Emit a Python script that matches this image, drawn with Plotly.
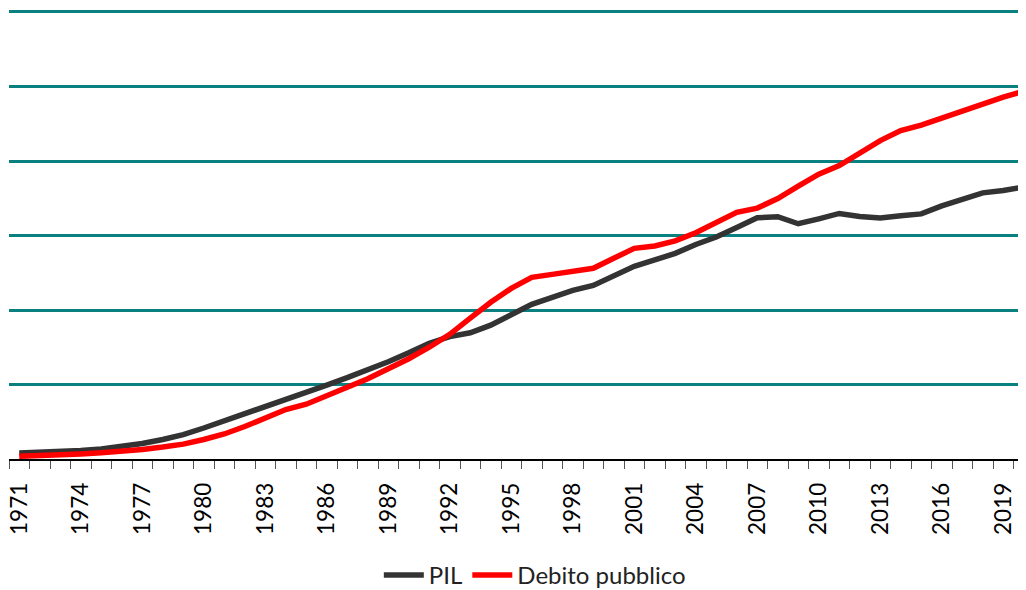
import plotly.graph_objects as go

years = list(range(1971, 2021))

pil = [40, 44, 48, 57, 67, 84, 104, 131, 164, 208,
       255, 301, 352, 399, 446, 496, 546, 596, 653, 713,
       777, 821, 847, 898, 971, 1038, 1085, 1132, 1165, 1232,
       1293, 1336, 1380, 1440, 1490, 1554, 1619, 1626, 1579, 1612,
       1648, 1628, 1618, 1632, 1645, 1699, 1746, 1786, 1802, 1826]

debito = [18, 21, 27, 34, 42, 50, 64, 80, 100, 131,
          168, 218, 271, 332, 368, 429, 482, 539, 603, 673,
          750, 837, 945, 1052, 1145, 1219, 1239, 1256, 1280, 1347,
          1414, 1430, 1464, 1518, 1585, 1655, 1684, 1748, 1831, 1912,
          1969, 2056, 2137, 2204, 2241, 2288, 2335, 2385, 2429, 2469]

label_years = years[::3]
label_text = [str(y) for y in label_years]
boundaries = [y - 0.5 for y in years] + [years[-1] + 0.5]

fig = go.Figure()
fig.add_trace(go.Scatter(x=years, y=pil, name="PIL", mode="lines",
                         line=dict(color="#333333", width=5.5)))
fig.add_trace(go.Scatter(x=years, y=debito, name="Debito pubblico", mode="lines",
                         line=dict(color="#FF0000", width=5.5)))

fig.update_layout(
    width=1026, height=590,
    margin=dict(l=1, r=0, t=0, b=138),
    paper_bgcolor="white", plot_bgcolor="white",
    showlegend=True,
    legend=dict(orientation="h", x=0.513, xanchor="center", y=-0.257, yanchor="middle",
                font=dict(family="Lato", size=24, color="#222222"),
                itemwidth=40, tracegroupgap=0),
    xaxis=dict(
        range=[1970.5, 2020.5], automargin=False,
        tickmode="array", tickvals=label_years, ticktext=label_text,
        tickangle=-90, ticklabeloverflow="allow",
        ticks="outside", ticklen=13, tickcolor="rgba(0,0,0,0)",
        tickfont=dict(family="Lato", size=22.5, color="#000000"),
        showgrid=False, zeroline=False,
        showline=True, linecolor="#000000", linewidth=1.5,
        minor=dict(tickmode="array", tickvals=boundaries, ticks="outside",
                   ticklen=8, tickcolor="#555555", tickwidth=1.3, showgrid=False),
    ),
    yaxis=dict(
        range=[0, 3026.8], dtick=500, tick0=0, automargin=False,
        showticklabels=False, ticks="",
        showgrid=True, gridcolor="#0B8080", gridwidth=2.5,
        zeroline=False, showline=False,
    ),
)

fig.write_html("out.html")
